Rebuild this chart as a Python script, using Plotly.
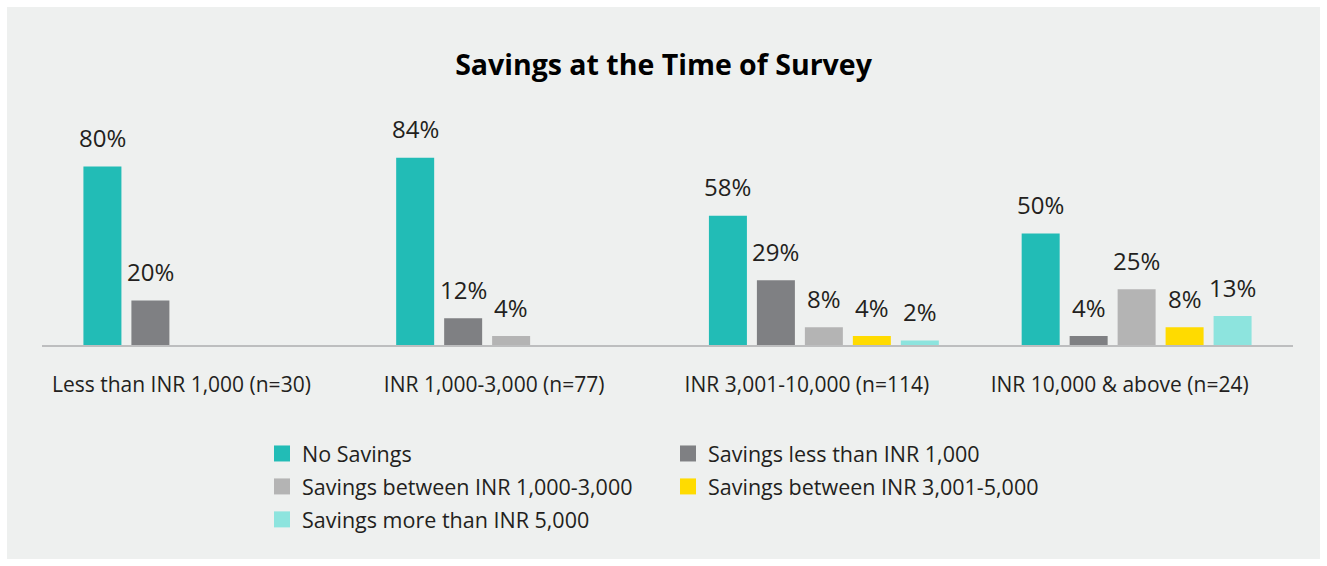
import plotly.graph_objects as go

categories = ["Less than INR 1,000 (n=30)", "INR 1,000-3,000 (n=77)",
              "INR 3,001-10,000 (n=114)", "INR 10,000 & above (n=24)"]
series_names = ["No Savings", "Savings less than INR 1,000",
                "Savings between INR 1,000-3,000", "Savings between INR 3,001-5,000",
                "Savings more than INR 5,000"]
no_savings = [80, 84, 58, 50]
less_1000 = [20, 12, 29, 4]
between_1000_3000 = [None, 4, 8, 25]
between_3001_5000 = [None, None, 4, 8]
more_5000 = [None, None, 2, 13]
series_values = [no_savings, less_1000, between_1000_3000, between_3001_5000, more_5000]
colors = ["#22bcb6", "#7f8083", "#b4b4b4", "#ffdb00", "#8de4de"]
legend_columns = ["legend", "legend2", "legend", "legend2", "legend"]

FONT = "Open Sans"
TXT = "#231f20"
BARGAP = 0.233

fig = go.Figure()
for name, vals, col in zip(series_names, series_values, colors):
    fig.add_trace(go.Bar(x=categories, y=vals, name=name, marker_color=col,
                         marker_line_width=0, showlegend=False))
# legend entries (two columns) with larger square swatches
for k, (name, col, lg) in enumerate(zip(series_names, colors, legend_columns)):
    fig.add_trace(go.Scatter(x=[None], y=[None], mode="markers", name=name,
                             legend=lg, legendgroup=f"g{k}",
                             marker=dict(symbol="square", size=16, color=col)))

# value labels above bars
n = len(series_names)
slot = (1 - BARGAP) / n
for j, vals in enumerate(series_values):
    for i, v in enumerate(vals):
        if v is None:
            continue
        fig.add_annotation(x=i + (j - (n - 1) / 2) * slot, y=v, xref="x", yref="y",
                           text=f"{v}%", showarrow=False, yanchor="middle", yshift=29,
                           font=dict(family=FONT, size=24, color=TXT))

# background panel with white border
fig.add_shape(type="rect", xref="paper", yref="paper", layer="below",
              x0=(7 - 42) / 1251, x1=(1320 - 42) / 1251,
              y0=(345 - 559) / 223, y1=(345 - 7) / 223,
              fillcolor="#eef0ef", line_width=0)

legend_common = dict(orientation="v", yanchor="top", xanchor="left",
                     bgcolor="rgba(0,0,0,0)", tracegroupgap=2,
                     font=dict(family=FONT, size=21.5, color=TXT))

fig.update_layout(
    width=1327, height=566,
    margin=dict(l=42, r=34, t=122, b=221, autoexpand=False),
    paper_bgcolor="white", plot_bgcolor="rgba(0,0,0,0)",
    barmode="group", bargap=BARGAP, bargroupgap=0.208,
    title=dict(text="<b>Savings at the Time of Survey</b>", x=0.5, xanchor="center",
               y=1 - 65 / 566, yanchor="middle", yref="container",
               font=dict(family=FONT, size=28.5, color="#000000")),
    font=dict(family=FONT, color=TXT),
    xaxis=dict(showline=True, linecolor="#bdbebf", linewidth=2, ticks="",
               ticklabelstandoff=20, ticklabelshift=-17,
               tickfont=dict(family=FONT, size=21, color=TXT), showgrid=False),
    yaxis=dict(range=[0, 100], visible=False, showgrid=False, zeroline=False),
    legend=dict(x=(262 - 42) / 1251, y=(345 - 433) / 223, **legend_common),
    legend2=dict(x=(668 - 42) / 1251, y=(345 - 433) / 223, **legend_common),
)

fig.write_html("out.html", config={"displayModeBar": False},
               post_script="document.body.style.margin='0';document.body.style.overflow='hidden';")
